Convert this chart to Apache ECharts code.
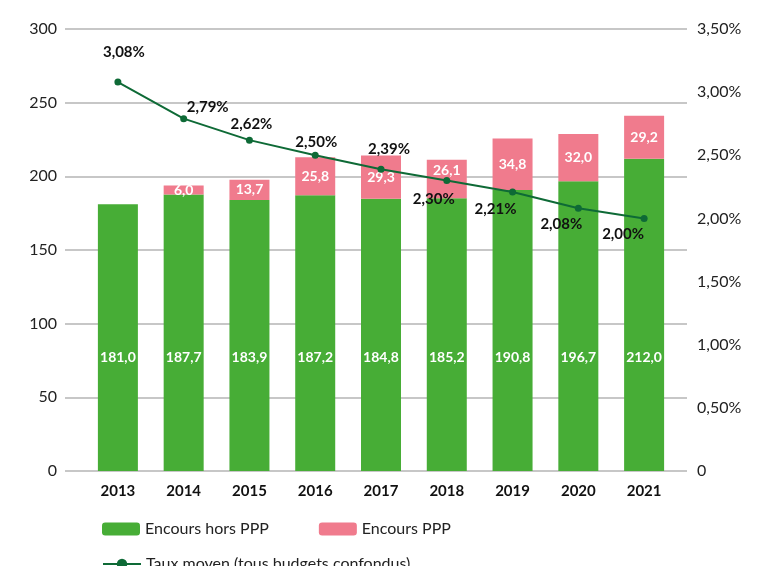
<!DOCTYPE html>
<html>
<head>
<meta charset="utf-8">
<style>
  html, body { margin: 0; padding: 0; background: #fff; }
  #chart { width: 767px; height: 566px; }
</style>
<script src="https://cdn.jsdelivr.net/npm/echarts@6/dist/echarts.min.js"></script>
</head>
<body>
<div id="chart"></div>
<script>
// data
var years = ['2013', '2014', '2015', '2016', '2017', '2018', '2019', '2020', '2021'];
var horsPPP = [181.0, 187.7, 183.9, 187.2, 184.8, 185.2, 190.8, 196.7, 212.0];
var ppp = [null, 6.0, 13.7, 25.8, 29.3, 26.1, 34.8, 32.0, 29.2];
var taux = [3.08, 2.79, 2.62, 2.50, 2.39, 2.30, 2.21, 2.08, 2.00];

var fontFam = 'Lato, "Open Sans", sans-serif';
var gridColor = '#b4b4b4';

function fr(v, d) {
  return v.toFixed(d).replace('.', ',');
}

var myChart = echarts.init(document.getElementById('chart'));

// where each rate label sits relative to its point
var tauxLabelPos = [
  ['top', 6, -14], ['top', 24, 4], ['top', 2, 0], ['top', 1, 3], ['top', 8, -4],
  ['bottom', -13, 3], ['bottom', -17, 1], ['bottom', -17, 0], ['bottom', -21, 0]
];
var tauxData = taux.map(function (v, i) {
  var p = tauxLabelPos[i];
  return { value: v, label: { position: p[0], offset: [p[1], p[2]] } };
});

// the 2018 PPP label sits a bit higher than the others
var pppData = ppp.map(function (v, i) {
  if (i == 5) return { value: v, label: { offset: [0, -8] } };
  return v;
});

var option = {
  backgroundColor: '#fff',
  textStyle: { fontFamily: fontFam },
  grid: [
    { left: 65, right: 80, top: 29, bottom: 95 },
    { left: 85, right: 90, top: 29, bottom: 95 }
  ],
  legend: [
    {
      data: ['Encours hors PPP', 'Encours PPP'],
      left: 97, top: 516,
      itemWidth: 38, itemHeight: 13, itemGap: 50,
      textStyle: { fontSize: 16, color: '#222', fontFamily: fontFam }
    },
    {
      data: ['Taux moyen (tous budgets confondus)'],
      left: 97, top: 551,
      itemWidth: 38, itemHeight: 13,
      textStyle: { fontSize: 16, color: '#222', fontFamily: fontFam }
    }
  ],
  xAxis: [
    { gridIndex: 0, type: 'category', data: years, show: false },
    {
      gridIndex: 1, type: 'category', data: years,
      axisLine: { show: false }, axisTick: { show: false },
      axisLabel: { margin: 13, fontSize: 15, fontWeight: 'bold', color: '#111', fontFamily: fontFam }
    }
  ],
  yAxis: [
    {
      gridIndex: 0, type: 'value', min: 0, max: 300, interval: 50,
      axisLine: { show: false }, axisTick: { show: false },
      axisLabel: { margin: 8, fontSize: 16, color: '#222', fontFamily: fontFam },
      splitLine: { lineStyle: { color: gridColor, width: 1.5 } }
    },
    {
      gridIndex: 0, type: 'value', position: 'right', min: 0, max: 3.5, interval: 0.5,
      axisLine: { show: false }, axisTick: { show: false },
      splitLine: { show: false },
      axisLabel: {
        margin: 10, fontSize: 16, color: '#222', fontFamily: fontFam,
        formatter: function (v) { return v === 0 ? '0' : fr(v, 2) + '%'; }
      }
    },
    { gridIndex: 1, type: 'value', min: 0, max: 300, show: false },
    { gridIndex: 1, type: 'value', min: 0, max: 3.5, show: false }
  ],
  series: [
    {
      name: 'Encours hors PPP',
      type: 'bar', stack: 'encours',
      xAxisIndex: 1, yAxisIndex: 2,
      barWidth: 40,
      itemStyle: { color: '#47ad36' },
      label: {
        show: true, position: 'insideBottom', distance: 107,
        color: '#fff', fontSize: 14, fontWeight: 'bold', fontFamily: fontFam,
        formatter: function (p) { return fr(p.value, 1); }
      },
      data: horsPPP
    },
    {
      name: 'Encours PPP',
      type: 'bar', stack: 'encours',
      xAxisIndex: 1, yAxisIndex: 2,
      barWidth: 40,
      itemStyle: { color: '#f07b8d' },
      label: {
        show: true, position: 'inside',
        color: '#fff', fontSize: 14, fontWeight: 'bold', fontFamily: fontFam,
        formatter: function (p) { return fr(p.value, 1); }
      },
      data: pppData
    },
    {
      name: 'Taux moyen (tous budgets confondus)',
      type: 'line',
      xAxisIndex: 1, yAxisIndex: 3,
      symbol: 'circle', symbolSize: 7,
      lineStyle: { color: '#0e6a36', width: 2 },
      itemStyle: { color: '#0e6a36' },
      label: {
        show: true, color: '#111', fontSize: 15, fontWeight: 'bold', fontFamily: fontFam,
        formatter: function (p) { return fr(p.value, 2) + '%'; }
      },
      data: tauxData,
      z: 5
    }
  ]
};

myChart.setOption(option);
</script>
</body>
</html>
